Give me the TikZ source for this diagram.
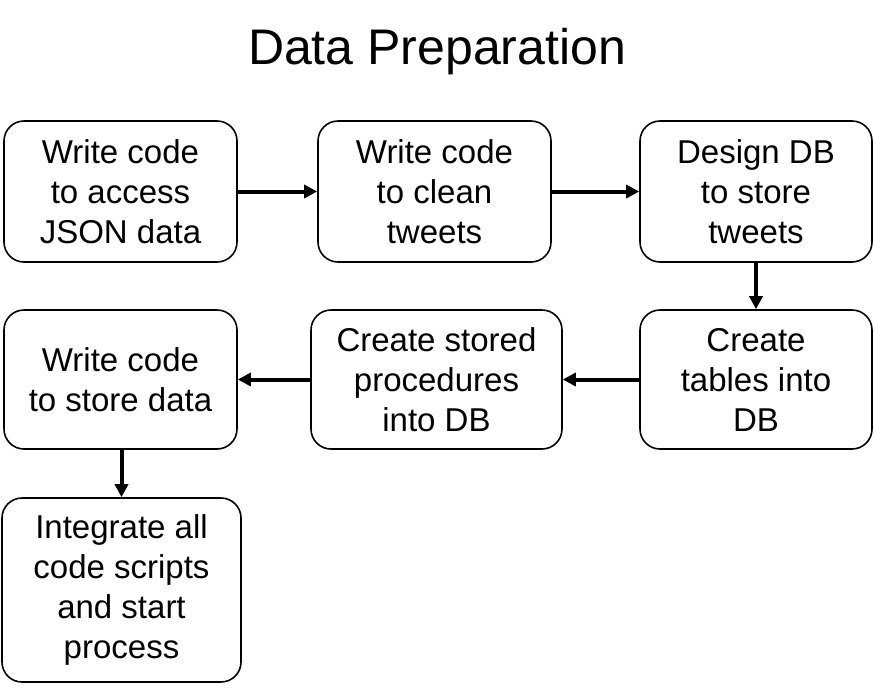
\documentclass[tikz,border=0pt]{standalone}
\usepackage{fontspec}
\setmainfont{Liberation Sans}
\usetikzlibrary{arrows.meta}
\begin{document}
\begin{tikzpicture}[x=1pt,y=-1pt,
  box/.style={draw, line width=1.6pt, rounded corners=20pt, align=center,
    inner sep=0pt, font=\fontsize{33}{40}\selectfont},
  flow/.style={line width=4pt, -{Triangle[length=13pt,width=13pt]}}]
\useasboundingbox (0,0) rectangle (874,691);
\node[anchor=base, font=\fontsize{50}{58}\selectfont] (title) at (437,64) {Data Preparation};
\node[box, minimum width=233pt, minimum height=141pt] (b1) at (120.5,191.5) {Write code\\to access\\JSON data};
\node[box, minimum width=233pt, minimum height=141pt] (b2) at (434.5,191.5) {Write code\\to clean\\tweets};
\node[box, minimum width=232pt, minimum height=141pt] (b3) at (756,191.5) {Design DB\\to store\\tweets};
\node[box, minimum width=232pt, minimum height=139pt] (b4) at (756,379.5) {Create\\tables into\\DB};
\node[box, minimum width=251pt, minimum height=139pt] (b5) at (436.5,379.5) {Create stored\\procedures\\into DB};
\node[box, minimum width=233pt, minimum height=139pt] (b6) at (120.5,379.5) {Write code\\to store data};
\node[box, minimum width=239pt, minimum height=184pt] (b7) at (121.5,590) {Integrate all\\code scripts\\and start\\process};
\draw[flow] (b1) -- (b2);
\draw[flow] (b2) -- (b3);
\draw[flow] (b3) -- (b4);
\draw[flow] (b4) -- (b5);
\draw[flow] (b5) -- (b6);
\draw[flow] (b6.south -| b7) -- (b7.north);
\end{tikzpicture}
\end{document}
